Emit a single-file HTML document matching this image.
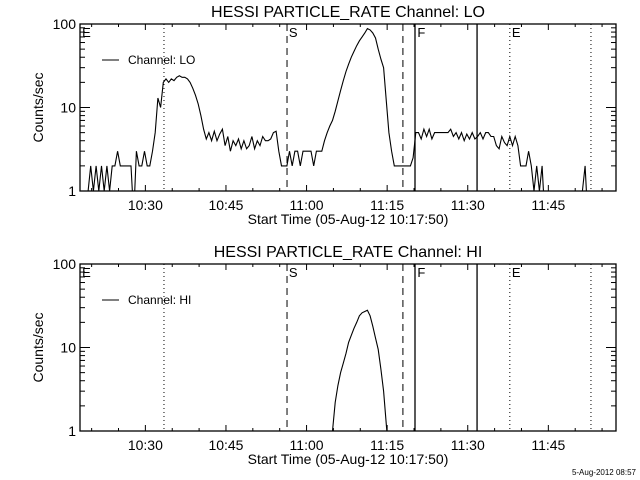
<!DOCTYPE html>
<html><head><meta charset="utf-8"><style>
html,body{margin:0;padding:0;background:#fff;}
svg{display:block;font-family:"Liberation Sans",sans-serif;}
</style></head><body>
<svg id="c" width="640" height="480" viewBox="0 0 640 480" xmlns="http://www.w3.org/2000/svg">
<rect x="0" y="0" width="640" height="480" fill="#fff"/>
<text x="636" y="475" font-size="8" text-anchor="end">5-Aug-2012 08:57</text>
</svg>
<script>
// minutes after 10:17:50, sampled every 0.5 min
const loStart = 0;
const loStep = 0.5;
const loValues = [
0.5,0.5,0.5,1,2,1,2,1,2,1,
2,1,2,2,3,2,2,2,2,2,
0.5,3,2,2,3,2,2,3,5,13,
10,20,22,20,22,21,23,24,23,23,
22,20,17,14,11,8,5.5,4.2,5,4,
5.2,4,4.8,5.5,3.5,4.5,3,4,3.5,4.2,
3.2,4,3.2,3.5,4.5,3.2,4,3.5,4.5,4,
4,4.2,5,5.2,3,2,2,2,3,2,
3,3,2,3,3,3,3,2,3,3,
3,4,5,6,7,9,12,16,21,27,
33,40,47,55,63,70,78,88,85,78,
68,50,38,30,12,5,3,2,2,2,
2,2,2,2,2.5,5,5,4.2,5.5,4.5,
5.5,4.2,5,5,5,5,5,5,5.5,4.5,
5,4.2,5,4,4.8,4.2,5,4.2,4.5,5,
4.2,5,5,4.5,4.5,3.5,3.2,4.5,3.8,3.5,
4.5,3.5,4.5,3.5,2,2,2,3,2,1,
2,1,2,0.5,0.5,0.5,0.5,0.5,0.5,0.5,
0.5,0.5,0.5,0.5,0.5,0.5,0.5,1,2,0.5,
0.5,0.5,0.5,0.5,0.5,0.5,0.5,0.5,0.5,0.5
];
const hiStart = 46.5;
const hiStep = 0.5;
const hiValues = [0.5,1.0,2.2,3.5,5,6.5,8.5,11.5,14,17,20,24,26,27,28,24,18,13,9.5,5.5,3,1.2,0.5];
const xTickLabels = ["10:30","10:45","11:00","11:15","11:30","11:45"];
const xTickTimes = [12.1667,27.1667,42.1667,57.1667,72.1667,87.1667];
const yTickValues = [1,10,100];
const yTickLabels = ["1","10","100"];
const markerTimes = [15.63,38.53,60.1,62.35,73.9,80.0,95.1];
const markerStyles = ["dot","dash","dash","solid","solid","dot","dot"];
const markerLetters = [["E",0.2],["S",38.7],["F",62.6],["E",80.2]];

const NS="http://www.w3.org/2000/svg";
const svg=document.getElementById('c');
const X0=80,X1=616,T0=0,T1=99.76;
function xs(t){return X0+(t-T0)/(T1-T0)*(X1-X0);}
function mk(tag,attrs,parent){const e=document.createElementNS(NS,tag);for(const k in attrs)e.setAttribute(k,attrs[k]);(parent||svg).appendChild(e);return e;}

function panel(idx,top,bottom,title,legend,start,step,vals){
  const g=mk('g',{});
  
  
  function ys(v){return bottom-(Math.log10(v))/2*(bottom-top);}
  const cid='clip'+idx;
  const cp=mk('clipPath',{id:cid},g);mk('rect',{x:X0,y:top,width:X1-X0,height:bottom-top},cp);
  const fr=mk('rect',{x:X0,y:top,width:X1-X0,height:bottom-top,fill:'none',stroke:'#000','stroke-width':1.3},g);
  
  
  for(let d=0;d<2;d++){for(let m=1;m<=9;m++){
    const v=Math.pow(10,d)*m; const y=ys(v); const L=(m===1)?10:5;
    mk('line',{x1:X0,y1:y,x2:X0+L,y2:y,stroke:'#000'},g);
    mk('line',{x1:X1,y1:y,x2:X1-L,y2:y,stroke:'#000'},g);
  }}
  yTickValues.forEach((v,i)=>{
    const t=mk('text',{x:76,y:ys(v)+5,'font-size':14,'text-anchor':'end'},g);
    
    
    t.textContent=yTickLabels[i];
  });
  for(let t=2.1667;t<T1;t+=5){
    const major=xTickTimes.some(a=>Math.abs(a-t)<0.01);const L=major?6:3;const x=xs(t);
    mk('line',{x1:x,y1:bottom,x2:x,y2:bottom-L,stroke:'#000'},g);
    mk('line',{x1:x,y1:top,x2:x,y2:top+L,stroke:'#000'},g);
  }
  xTickLabels.forEach((s,i)=>{
    const t=mk('text',{x:xs(xTickTimes[i]),y:bottom+19,'font-size':14,'text-anchor':'middle'},g);
    
    
    t.textContent=s;
  });
  const xt=mk('text',{x:348,y:bottom+33,'font-size':14,'text-anchor':'middle'},g);
  
  
  xt.textContent='Start Time (05-Aug-12 10:17:50)';
  const tt=mk('text',{x:348,y:top-7,'font-size':16,'text-anchor':'middle'},g);
  
  
  tt.textContent=title;
  const yt=mk('text',{x:0,y:0,'font-size':14,'text-anchor':'middle',transform:'translate(43,'+((top+bottom)/2)+') rotate(-90)'},g);
  
  
  yt.textContent='Counts/sec';
  markerTimes.forEach((t,i)=>{
    const x=xs(t);const st=markerStyles[i];
    const a={x1:x,y1:top,x2:x,y2:bottom,stroke:'#000','stroke-width':st==='solid'?1.3:1};
    if(st==='dot')a['stroke-dasharray']='1,3';
    if(st==='dash')a['stroke-dasharray']='7,5';
    const l=mk('line',a,g);
    
    
  });
  markerLetters.forEach(m=>{
    const t=mk('text',{x:xs(m[1])+1,y:top+13,'font-size':13},g);
    
    
    t.textContent=m[0];
  });
  mk('line',{x1:102,y1:top+36,x2:119,y2:top+36,stroke:'#000'},g);
  const lt=mk('text',{x:128,y:top+40,'font-size':12},g);
  
  
  lt.textContent='Channel: '+legend;
  const pts=vals.map((v,i)=>xs(start+i*step).toFixed(1)+','+ys(v).toFixed(1)).join(' ');
  const pl=mk('polyline',{points:pts,fill:'none',stroke:'#000','stroke-width':1.1,'clip-path':'url(#'+cid+')'},g);
  
  
}
panel(0,24,191,'HESSI PARTICLE_RATE Channel: LO','LO',loStart,loStep,loValues);
panel(1,264,431,'HESSI PARTICLE_RATE Channel: HI','HI',hiStart,hiStep,hiValues);
</script>
</body></html>
